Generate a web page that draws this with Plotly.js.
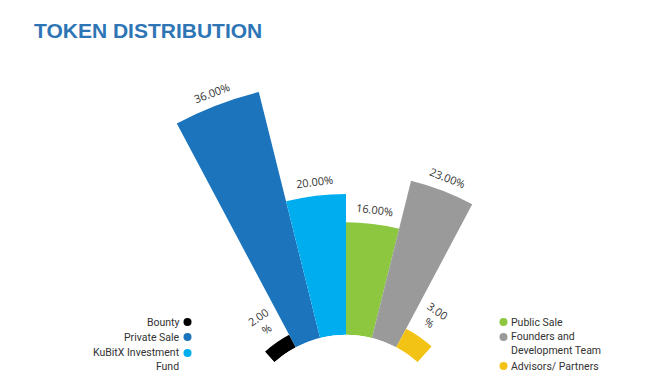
<!DOCTYPE html>
<html>
<head>
<meta charset="utf-8">
<script src="https://cdn.plot.ly/plotly-3.0.1.min.js"></script>
<style>
html, body { margin: 0; padding: 0; overflow: hidden; background: #fff; }
#chart { width: 663px; height: 442px; }
</style>
</head>
<body>
<div id="chart"></div>
<script>
// ---- data ----
const categories = ['Bounty', 'Private Sale', 'KuBitX Investment Fund', 'Public Sale', 'Founders and Development Team', 'Advisors/ Partners'];
const values = [2, 36, 20, 16, 23, 3];
const valueLabels = ['2.00<br>%', '36.00%', '20.00%', '16.00%', '23.00%', '3.00<br>%'];
const legendLabels = ['Bounty', 'Private Sale', 'KuBitX Investment<br>Fund', 'Public Sale', 'Founders and<br>Development Team', 'Advisors/ Partners'];
const colors = ['#000000', '#1C75BC', '#00AEEF', '#8DC63F', '#9A9A9A', '#F2C314'];

// ---- layout constants ----
const W = 663, H = 442;
const M = { l: 86, r: 57, t: 53, b: 0 };
const SECTOR_DEG = 14;
const ROTATION = 125;
const RMAX = 40;
const HOLE = 0.2754;
const FONT = 'Open Sans, Noto Sans, Liberation Sans, sans-serif';
const LEGFONT = 'Roboto, Open Sans, sans-serif';
const TXT = '#333333';

const pw = W - M.l - M.r, ph = H - M.t - M.b;
const px2x = px => (px - M.l) / pw;
const px2y = py => 1 - (py - M.t) / ph;

const data = [{
  type: 'barpolar',
  r: values,
  theta: categories,
  marker: { color: colors, line: { width: 0 } },
  hoverinfo: 'theta+r',
  showlegend: false
}];

// legend (two groups) built from annotations + circle shapes
const legendLeft = [{ i: 0, y: 322 }, { i: 1, y: 337 }, { i: 2, y: 353, y2: 359.5 }];
const legendRight = [{ i: 3, y: 322 }, { i: 4, y: 337, y2: 343.5 }, { i: 5, y: 366 }];
const annotations = [];
const shapes = [];
legendLeft.forEach(e => {
  annotations.push({
    xref: 'paper', yref: 'paper', x: px2x(181.5), y: px2y(e.y2 || e.y),
    xanchor: 'right', yanchor: 'middle', align: 'right', showarrow: false,
    text: legendLabels[e.i], font: { family: LEGFONT, size: 10.5, color: TXT }
  });
  shapes.push({
    type: 'circle', xref: 'paper', yref: 'paper', xsizemode: 'pixel', ysizemode: 'pixel',
    xanchor: px2x(187.5), yanchor: px2y(e.y), x0: -4, x1: 4, y0: -4, y1: 4,
    fillcolor: colors[e.i], line: { width: 0 }
  });
});
legendRight.forEach(e => {
  annotations.push({
    xref: 'paper', yref: 'paper', x: px2x(508.5), y: px2y(e.y2 || e.y),
    xanchor: 'left', yanchor: 'middle', align: 'left', showarrow: false,
    text: legendLabels[e.i], font: { family: LEGFONT, size: 10.5, color: TXT }
  });
  shapes.push({
    type: 'circle', xref: 'paper', yref: 'paper', xsizemode: 'pixel', ysizemode: 'pixel',
    xanchor: px2x(503.5), yanchor: px2y(e.y), x0: -4, x1: 4, y0: -4, y1: 4,
    fillcolor: colors[e.i], line: { width: 0 }
  });
});

const layout = {
  width: W, height: H,
  margin: M,
  paper_bgcolor: '#ffffff',
  showlegend: false,
  title: {
    text: 'TOKEN DISTRIBUTION',
    font: { family: 'Liberation Sans, Arial, sans-serif', size: 21, color: '#2E75B6', weight: 700 },
    x: 34 / W, xanchor: 'left', xref: 'container',
    y: 1 - 31 / H, yanchor: 'middle', yref: 'container'
  },
  polar: {
    domain: { x: [0, 1], y: [0, 1] },
    sector: [ROTATION - (categories.length - 1) * SECTOR_DEG - SECTOR_DEG / 2, ROTATION + SECTOR_DEG / 2],
    hole: HOLE,
    bgcolor: '#ffffff',
    bargap: 0,
    radialaxis: { range: [0, RMAX], visible: false, showgrid: false, showline: false, showticklabels: false, ticks: '' },
    angularaxis: {
      type: 'category', categoryorder: 'array', categoryarray: categories,
      period: 360 / SECTOR_DEG, rotation: ROTATION, direction: 'clockwise',
      visible: false, showgrid: false, showline: false, showticklabels: false, ticks: ''
    }
  },
  annotations: annotations,
  shapes: shapes
};

const gd = document.getElementById('chart');
Plotly.newPlot(gd, data, layout, { displayModeBar: false, staticPlot: true }).then(() => {
  const fl = gd._fullLayout;
  const sp = fl.polar && fl.polar._subplot;
  const gs = fl._size;
  let cx, cy, R, R0;
  if (sp && isFinite(sp.cx) && isFinite(sp.radius)) {
    cx = sp.cx; cy = sp.cy; R = sp.radius; R0 = isFinite(sp.innerRadius) ? sp.innerRadius : HOLE * R;
  } else {
    const s0 = layout.polar.sector[0] * Math.PI / 180;
    const bx = Math.abs(Math.cos(s0)) * 2;
    R = Math.min(gs.w / bx, gs.h);
    cx = gs.l + gs.w / 2; cy = gs.t + gs.h; R0 = HOLE * R;
  }
  const rr = fl.polar.radialaxis.range;
  const labelAnns = values.map((v, i) => {
    const twoLine = valueLabels[i].indexOf('<br>') >= 0;
    const rpx = R0 + (R - R0) * (v - rr[0]) / (rr[1] - rr[0]) + (twoLine ? 25 : 14);
    const ang = ROTATION - i * SECTOR_DEG;
    const a = ang * Math.PI / 180;
    const px = cx + rpx * Math.cos(a), py = cy - rpx * Math.sin(a);
    return {
      xref: 'paper', yref: 'paper',
      x: (px - gs.l) / gs.w, y: 1 - (py - gs.t) / gs.h,
      xanchor: 'center', yanchor: 'middle', align: 'center', showarrow: false,
      text: valueLabels[i], textangle: 90 - ang,
      font: { family: FONT, size: 11, color: TXT }
    };
  });
  return Plotly.relayout(gd, { annotations: annotations.concat(labelAnns) });
});
</script>
</body>
</html>
